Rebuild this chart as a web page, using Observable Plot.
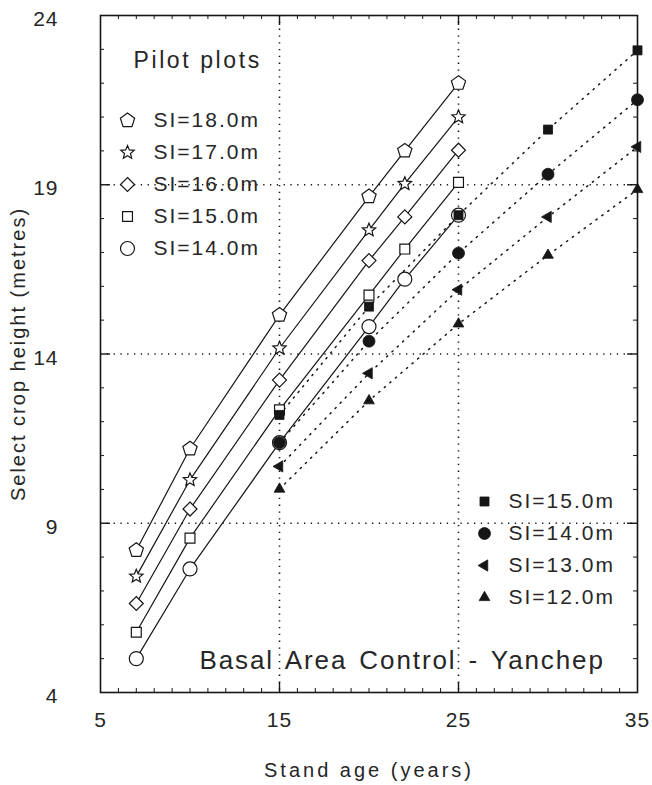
<!DOCTYPE html>
<html>
<head>
<meta charset="utf-8">
<script src="https://cdn.jsdelivr.net/npm/d3@7"></script>
<script src="https://cdn.jsdelivr.net/npm/@observablehq/plot@0.6"></script>
<style>
  html, body { margin: 0; padding: 0; background: #fff; }
  #chart svg { display: block; }
  #chart svg text { letter-spacing: 1px; }
  #chart svg .wide text { letter-spacing: 2px; }
  #chart svg .title text { letter-spacing: 2.6px; }
  #chart svg .xtitle text { letter-spacing: 3px; }
  #chart svg .ytitle text { letter-spacing: 2px; }
  #chart svg .caption text { letter-spacing: 1.9px; word-spacing: 3px; }
</style>
</head>
<body>
<div id="chart"></div>
<script>
// Axis ticks
const ageTicks = [5, 15, 25, 35];
const heightTicks = [4, 9, 14, 19, 24];
const ageGrid = [15, 25];
const heightGrid = [9, 14, 19];

// Pilot plots: measured heights (open markers, solid lines)
const pilotAges = [7, 10, 15, 20, 22, 25];
const pilotLabels = ["SI=18.0m", "SI=17.0m", "SI=16.0m", "SI=15.0m", "SI=14.0m"];
const pilot18 = [8.2, 11.2, 15.15, 18.65, 20.0, 22.0];
const pilot17 = [7.43, 10.28, 14.17, 17.66, 19.03, 21.0];
const pilot16 = [6.63, 9.42, 13.23, 16.76, 18.05, 20.02];
const pilot15 = [5.78, 8.56, 12.35, 15.74, 17.1, 19.07];
const pilot14 = [5.0, 7.65, 11.38, 14.81, 16.21, 18.1];

// Projected heights (filled markers, dotted lines)
const projAges = [15, 20, 25, 30, 35];
const projLabels = ["SI=15.0m", "SI=14.0m", "SI=13.0m", "SI=12.0m"];
const proj15 = [12.2, 15.4, 18.1, 20.63, 22.97];
const proj14 = [11.38, 14.38, 16.98, 19.31, 21.51];
const proj13 = [10.68, 13.43, 15.9, 18.05, 20.12];
const proj12 = [10.01, 12.62, 14.89, 16.92, 18.86];

const caption = "Basal Area Control - Yanchep";
const legendTitle = "Pilot plots";
const xTitle = "Stand age (years)";
const yTitle = "Select crop height (metres)";

const ink = "#161616";
const textInk = "#262626";

// Marker shapes; r is the circumradius
const regular = (n, rot, inner) => ({
  draw(ctx, size) {
    const r = Math.sqrt(size / Math.PI);
    const m = inner ? n * 2 : n;
    for (let i = 0; i < m; ++i) {
      const a = rot + (i * 2 * Math.PI) / m;
      const rr = inner && i % 2 ? r * inner : r;
      const x = rr * Math.cos(a), y = rr * Math.sin(a);
      i ? ctx.lineTo(x, y) : ctx.moveTo(x, y);
    }
    ctx.closePath();
  }
});
const pentagon = regular(5, -Math.PI / 2);
const star = regular(5, -Math.PI / 2, 0.45);
const diamond = regular(4, -Math.PI / 2);
const square = regular(4, -Math.PI / 4);
const triLeft = regular(3, Math.PI);
const triUp = regular(3, -Math.PI / 2);

const pilotStyle = [
  {values: pilot18, symbol: pentagon, r: 7.5},
  {values: pilot17, symbol: star, r: 7},
  {values: pilot16, symbol: diamond, r: 7},
  {values: pilot15, symbol: square, r: 7},
  {values: pilot14, symbol: "circle", r: 7}
];
const projStyle = [
  {values: proj15, symbol: square, r: 6.4},
  {values: proj14, symbol: "circle", r: 6},
  {values: proj13, symbol: triLeft, r: 6.5},
  {values: proj12, symbol: triUp, r: 6.2}
];

const pilotRows = pilotStyle.flatMap((s, i) =>
  pilotAges.map((age, j) => ({series: pilotLabels[i], age, height: s.values[j]})));
const projRows = projStyle.flatMap((s, i) =>
  projAges.map((age, j) => ({series: projLabels[i], age, height: s.values[j]})));

const W = 652, H = 785;
const mL = 100, mR = 15, mT = 15, mB = 93;
const fw = W - mL - mR, fh = H - mT - mB;
const minorLen = 4, majorLen = 10;

const xMinor = d3.range(6, 35).filter(d => !ageGrid.includes(d));
const yMinor = d3.range(5, 24).filter(d => !heightGrid.includes(d));

const marks = [
  // dotted reference grid
  Plot.ruleX(ageGrid, {x: d => d, stroke: ink, strokeWidth: 1.6, strokeDasharray: "1.3,5.5"}),
  Plot.ruleY(heightGrid, {y: d => d, stroke: ink, strokeWidth: 1.6, strokeDasharray: "1.3,5.5"}),
  Plot.frame({stroke: ink, strokeWidth: 1.6}),

  // inward ticks on all four sides
  Plot.tickX(xMinor, {x: d => d, insetTop: fh - minorLen, stroke: ink}),
  Plot.tickX(xMinor, {x: d => d, insetBottom: fh - minorLen, stroke: ink}),
  Plot.tickX(ageGrid, {x: d => d, insetTop: fh - majorLen, stroke: ink, strokeWidth: 1.4}),
  Plot.tickX(ageGrid, {x: d => d, insetBottom: fh - majorLen, stroke: ink, strokeWidth: 1.4}),
  Plot.tickY(yMinor, {y: d => d, insetRight: fw - minorLen, stroke: ink}),
  Plot.tickY(yMinor, {y: d => d, insetLeft: fw - minorLen, stroke: ink}),
  Plot.tickY(heightGrid, {y: d => d, insetRight: fw - majorLen, stroke: ink, strokeWidth: 1.4}),
  Plot.tickY(heightGrid, {y: d => d, insetLeft: fw - majorLen, stroke: ink, strokeWidth: 1.4}),

  // projected series: dotted lines
  Plot.line(projRows, {x: "age", y: "height", z: "series", stroke: ink, strokeWidth: 1.5, strokeDasharray: "1.3,6"}),
  // pilot plot series: solid lines
  Plot.line(pilotRows, {x: "age", y: "height", z: "series", stroke: ink, strokeWidth: 1.2}),

  // open markers
  ...pilotStyle.map((s, i) =>
    Plot.dot(pilotRows.filter(d => d.series === pilotLabels[i]),
      {x: "age", y: "height", symbol: () => s.symbol, r: s.r, fill: "white", stroke: ink, strokeWidth: 1.2})),
  // filled markers
  ...projStyle.map((s, i) =>
    Plot.dot(projRows.filter(d => d.series === projLabels[i]),
      {x: "age", y: "height", symbol: () => s.symbol, r: s.r, fill: ink, stroke: ink, strokeWidth: 0.8})),

  // pilot plots legend (top left)
  Plot.text([legendTitle], {frameAnchor: "top-left", dx: 33, dy: 45, textAnchor: "start", lineAnchor: "middle",
    fontSize: 23, fill: textInk, className: "title"}),
  ...pilotStyle.map((s, i) =>
    Plot.dot([pilotLabels[i]], {frameAnchor: "top-left", dx: 27, dy: 105 + i * 32, symbol: () => s.symbol,
      r: s.r, fill: "white", stroke: ink, strokeWidth: 1.2})),
  ...pilotLabels.map((label, i) =>
    Plot.text([label], {frameAnchor: "top-left", dx: 53, dy: 105 + i * 32, textAnchor: "start", lineAnchor: "middle",
      fontSize: 21, fill: textInk, className: "wide"})),

  // projection legend (bottom right)
  ...projStyle.map((s, i) =>
    Plot.dot([projLabels[i]], {frameAnchor: "bottom-right", dx: -153, dy: -191 + i * 32, symbol: () => s.symbol,
      r: s.r, fill: ink, stroke: ink, strokeWidth: 0.8})),
  ...projLabels.map((label, i) =>
    Plot.text([label], {frameAnchor: "bottom-right", dx: -129, dy: -191 + i * 32, textAnchor: "start", lineAnchor: "middle",
      fontSize: 21, fill: textInk, className: "wide"})),

  // caption inside the frame
  Plot.text([caption], {frameAnchor: "bottom-left", dx: 99, dy: -32, textAnchor: "start", lineAnchor: "middle",
    fontSize: 26, fill: textInk, className: "caption"}),

  // tick labels
  Plot.text(ageTicks, {x: d => d, text: d => String(d), frameAnchor: "bottom", dy: 28, textAnchor: "middle",
    lineAnchor: "middle", fontSize: 21, fill: textInk}),
  Plot.text(heightTicks, {y: d => d, text: d => String(d), frameAnchor: "left", dx: -42, dy: 4, textAnchor: "end",
    lineAnchor: "middle", fontSize: 21, fill: textInk}),

  // axis titles
  Plot.text([xTitle], {frameAnchor: "bottom", dy: 78, textAnchor: "middle", lineAnchor: "middle",
    fontSize: 20, fill: textInk, className: "xtitle"}),
  Plot.text([yTitle], {frameAnchor: "left", dx: -82, rotate: -90, textAnchor: "middle", lineAnchor: "middle",
    fontSize: 20, fill: textInk, className: "ytitle"})
];

const chart = Plot.plot({
  width: W,
  height: H,
  marginLeft: mL,
  marginRight: mR,
  marginTop: mT,
  marginBottom: mB,
  style: {fontFamily: "'Liberation Sans', Arial, sans-serif", background: "#fff", color: ink},
  x: {type: "linear", domain: [5, 35], axis: null},
  y: {type: "linear", domain: [4, 24], axis: null},
  marks
});
document.getElementById("chart").append(chart);
</script>
</body>
</html>
